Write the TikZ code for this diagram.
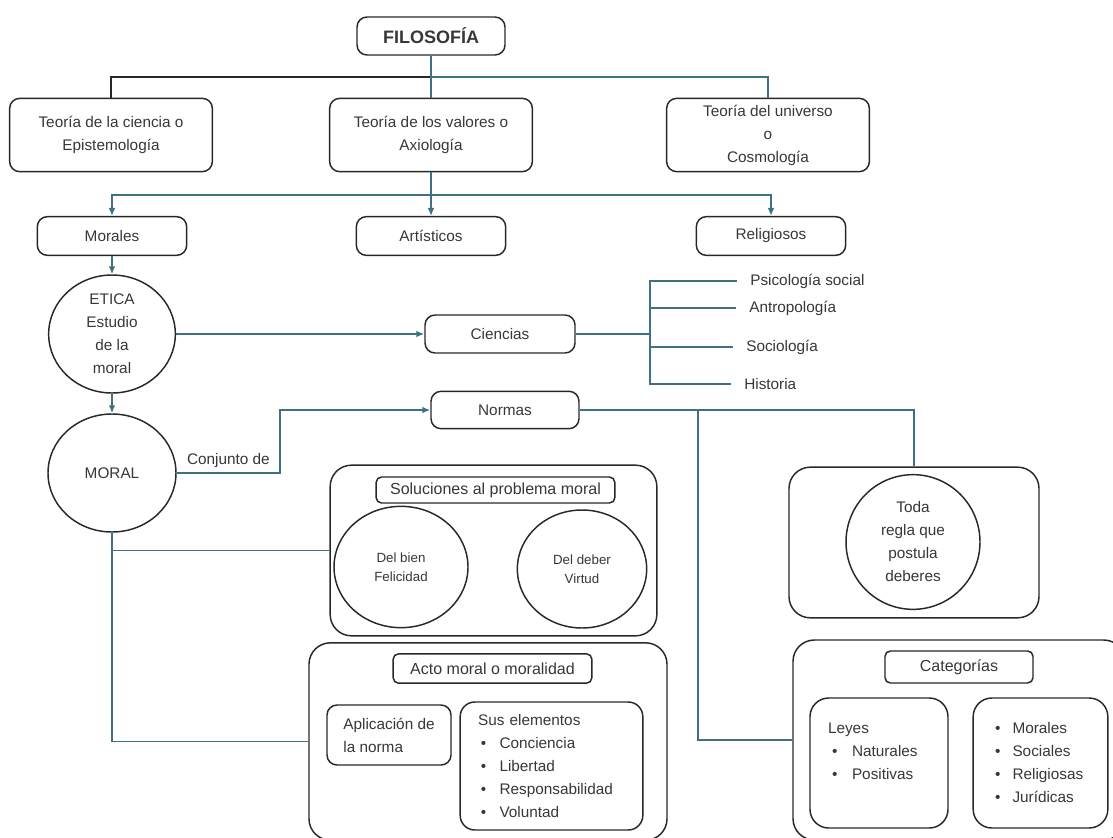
\documentclass[tikz,border=0pt]{standalone}
\usepackage{fontspec}
\setmainfont{Liberation Sans}
\usepackage{tikz}
\usetikzlibrary{shapes.geometric, arrows, arrows.meta}

\definecolor{linea}{RGB}{64,112,132}
\definecolor{borde}{RGB}{40,40,40}
\definecolor{texto}{RGB}{55,55,55}

\tikzset{
  caja/.style={draw=borde, line width=1.1pt, rounded corners=7.5pt, align=center, text=texto, inner sep=2pt},
  marco/.style={caja, rounded corners=16pt},
  titulo/.style={caja, rounded corners=4pt, inner sep=1pt, font=\fontsize{12}{14}\selectfont},
  bola/.style={ellipse, draw=borde, line width=1.1pt, align=center, text=texto, inner sep=0pt},
  rama/.style={text=texto, anchor=west, inner xsep=9.75pt},
  conector/.style={draw=linea, line width=1.1pt},
}

\newcommand{\punto}[2][14pt]{\makebox[#1][l]{\textbullet}#2}

\begin{document}
\begin{tikzpicture}[x=0.75pt, y=-0.75pt, >={Latex[length=6pt,width=5pt]}, font=\fontsize{11.5}{17.25}\selectfont]

\useasboundingbox (0,0) rectangle (1113,838);
\clip (0,0) rectangle (1113,838);

% primer nivel
\node[caja, minimum width=111pt, minimum height=28.5pt, font=\bfseries\fontsize{13.5}{16}\selectfont] (filo) at (431,36) {FILOSOFÍA};

\node[caja, minimum width=152pt, minimum height=55pt] (epis) at (111,135) {Teoría de la ciencia o\\Epistemología};
\node[caja, minimum width=152pt, minimum height=55pt] (axio) at (431,135) {Teoría de los valores o\\Axiología};
\node[caja, minimum width=152pt, minimum height=55pt] (cosmo) at (768,135) {Teoría del universo\\o\\Cosmología};

\node[caja, minimum width=112pt, minimum height=29pt] (morales) at (112,236) {Morales};
\node[caja, minimum width=112pt, minimum height=29pt] (arti) at (431,236) {Artísticos};
\node[caja, minimum width=112pt, minimum height=29pt] (relig) at (771,236) {Religiosos};

% etica y moral
\node[bola, minimum width=95pt, minimum height=88.5pt] (etica) at (112,334) {ETICA\\Estudio\\de la\\moral};
\node[bola, minimum width=96pt, minimum height=88.5pt] (moral) at (112,473) {MORAL};

\node[caja, minimum width=112.5pt, minimum height=28.5pt] (ciencias) at (500,334) {Ciencias};
\node[caja, minimum width=111pt, minimum height=28pt] (normas) at (505,410) {Normas};

\node[rama] (psico) at (737,281) {Psicología social};
\node[rama] (antro) at (736,308) {Antropología};
\node[rama] (socio) at (733,347) {Sociología};
\node[rama] (hist) at (731,384) {Historia};

% soluciones
\node[marco, minimum width=245pt, minimum height=128pt] (sol) at (493.5,550.5) {};
\node[titulo, minimum width=179pt, minimum height=19.5pt] (solt) at (495.5,490) {Soluciones al problema moral};
\node[bola, minimum width=100.5pt, minimum height=91pt, font=\fontsize{10}{14.25}\selectfont] (bien) at (401,567) {Del bien\\Felicidad};
\node[bola, minimum width=97pt, minimum height=88.5pt, font=\fontsize{10}{14.25}\selectfont] (deber) at (582,569) {Del deber\\Virtud};

\node[marco, minimum width=187.5pt, minimum height=113pt] (todab) at (914,542.5) {};
\node[bola, minimum width=100.5pt, minimum height=101pt] (toda) at (913,542) {Toda\\regla que\\postula\\deberes};

% acto moral
\node[marco, minimum width=268.5pt, minimum height=148pt] (acto) at (488,741.5) {};
\node[titulo, minimum width=149pt, minimum height=22pt] (actot) at (492.5,668.5) {Acto moral o moralidad};
\node[caja, align=left, minimum width=93pt, minimum height=45pt] (aplic) at (389,735) {Aplicación de\\la norma};
\node[caja, rounded corners=11pt, align=left, text width=110pt, inner xsep=13.5pt, minimum height=96pt] (elem) at (551.5,766)
  {Sus elementos\\\hspace*{2pt}\punto{Conciencia}\\\hspace*{2pt}\punto{Libertad}\\\hspace*{2pt}\punto{Responsabilidad}\\\hspace*{2pt}\punto{Voluntad}};

% categorias
\node[marco, minimum width=249pt, minimum height=150pt] (categ) at (959,740) {};
\node[titulo, minimum width=111pt, minimum height=24pt] (catt) at (959,667) {Categorías};
\node[caja, rounded corners=14pt, align=left, text width=76.5pt, inner xsep=13.5pt, minimum height=97.5pt] (leyes) at (879,763)
  {Leyes\\\hspace*{3pt}\punto[15pt]{Naturales}\\\hspace*{3pt}\punto[15pt]{Positivas}\\\mbox{}};
\node[caja, rounded corners=14pt, align=left, text width=68pt, inner xsep=16.5pt, minimum height=97.5pt] (lista) at (1040.5,763)
  {\punto[13pt]{Morales}\\\punto[13pt]{Sociales}\\\punto[13pt]{Religiosas}\\\punto[13pt]{Jurídicas}};

% conectores
\coordinate (cruce) at (431,77);
\coordinate (reparto) at (431,195);
\coordinate (codo) at (280,473);
\coordinate (horq) at (650,334);
\coordinate (nudo) at (698,410);

\draw[conector, draw=borde] (epis.north) |- (cruce);
\draw[conector] (filo) -- (axio);
\draw[conector] (cruce) -| (cosmo.north);

\draw[conector, ->] (axio) -- (arti);
\draw[conector, ->] (reparto) -| (morales.north);
\draw[conector, ->] (reparto) -| (relig.north);

\draw[conector, ->] (morales) -- (etica);
\draw[conector, ->] (etica) -- (moral);
\draw[conector, ->] (etica) -- (ciencias);
\draw[conector, ->] (moral.east) -- node[above, text=texto] (conj) {Conjunto de} (codo) |- (normas.west);

\draw[conector] (ciencias) -- (horq);
\draw[conector] (horq) |- (psico.west);
\draw[conector] (horq) |- (antro.west);
\draw[conector] (horq) |- (socio.west);
\draw[conector] (horq) |- (hist.west);

\draw[conector] (normas.east) -| (todab.north);
\draw[conector] (nudo) |- (categ.west);

\draw[conector] (moral.south) |- (sol.west);
\draw[conector] (moral.south) |- (acto.west);

\end{tikzpicture}
\end{document}
